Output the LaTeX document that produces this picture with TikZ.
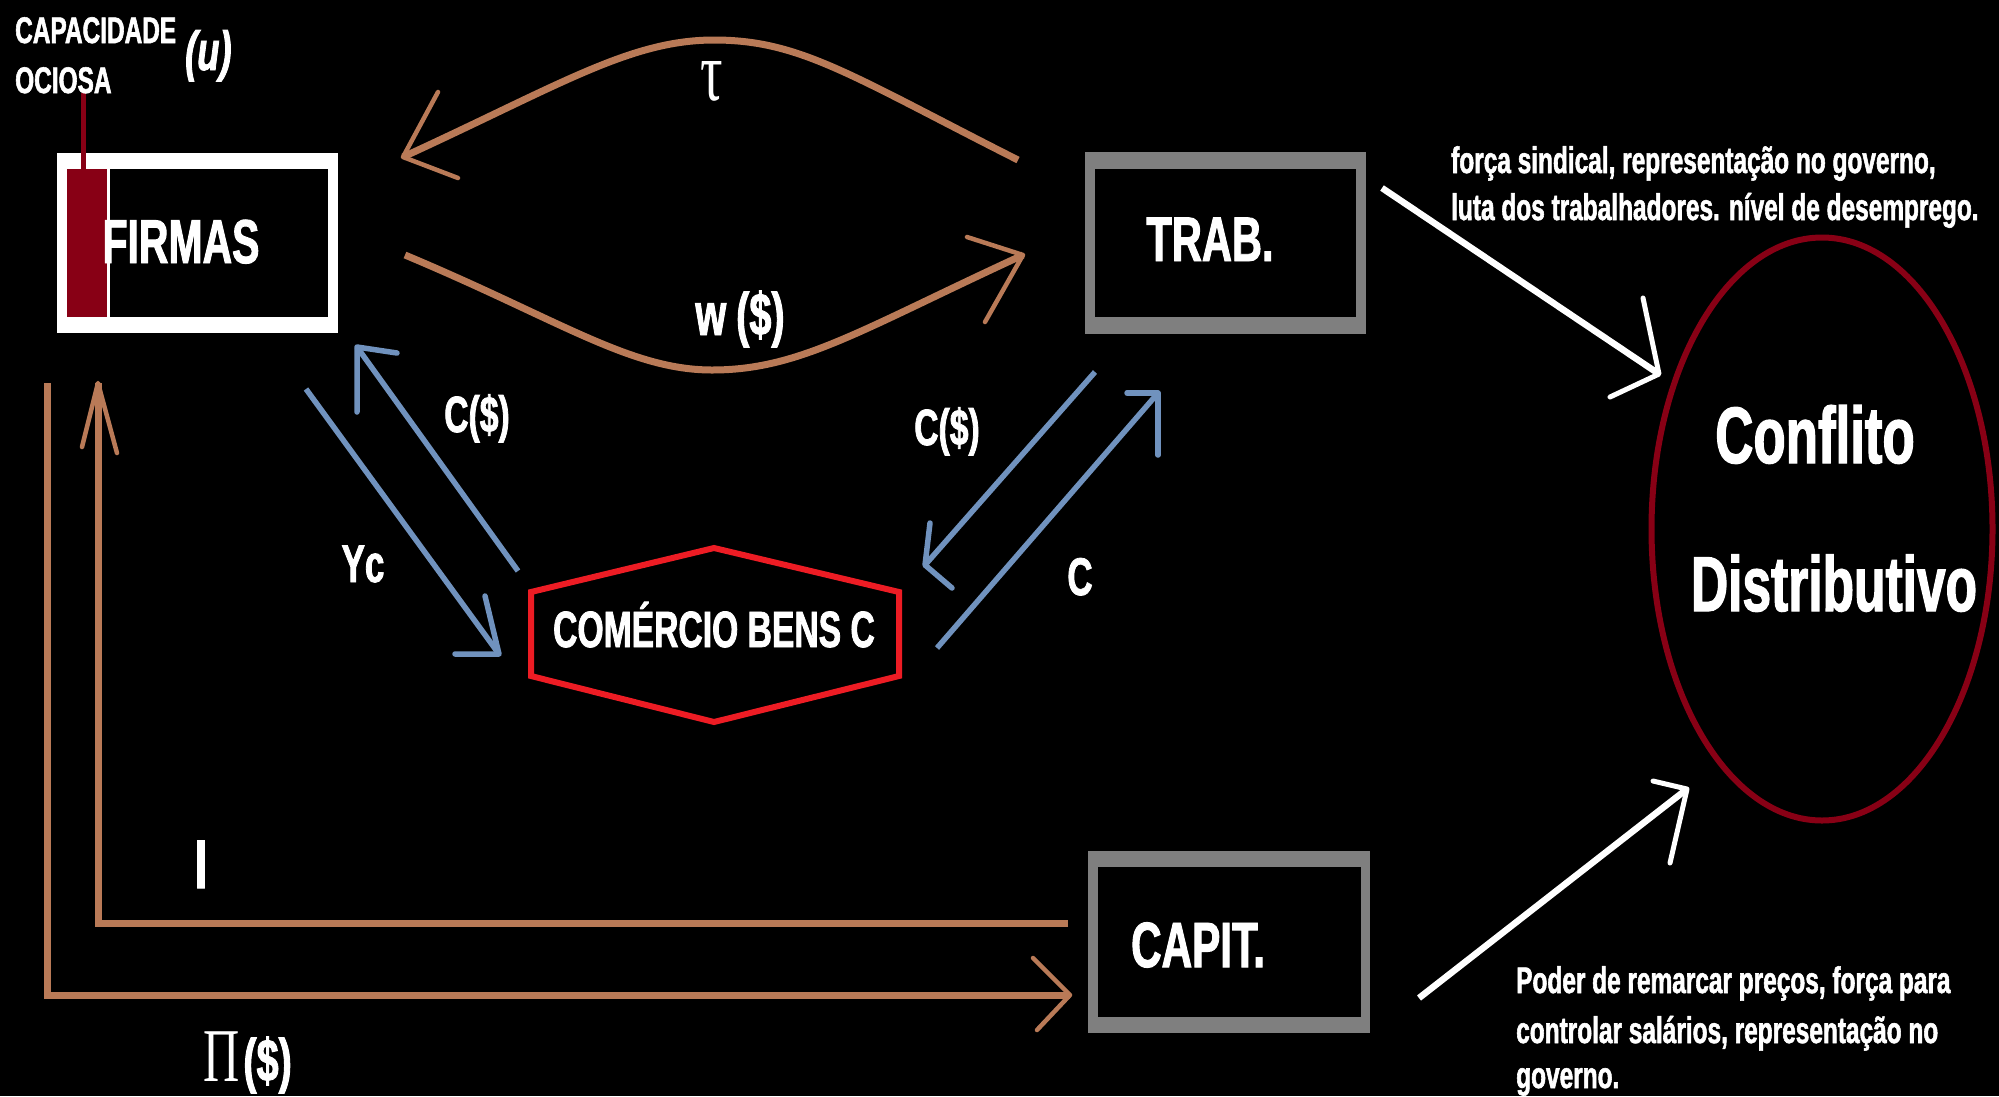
\documentclass[tikz,border=0pt]{standalone}
\usepackage{fontspec}
\usetikzlibrary{shapes.geometric}
\newfontfamily\nf{Liberation Sans}[FakeStretch=0.66, BoldFeatures={FakeBold=1.5}, BoldItalicFeatures={FakeBold=1.5}]
\newfontfamily\srf{Liberation Serif}[FakeStretch=0.66]
\definecolor{brn}{RGB}{185,122,87}
\definecolor{blu}{RGB}{112,146,190}
\definecolor{redc}{RGB}{237,28,36}
\definecolor{dred}{RGB}{136,0,21}
\definecolor{gry}{RGB}{127,127,127}
\newcommand\fsz[1]{\fontsize{#1}{#1}\selectfont}
\begin{document}
\begin{tikzpicture}[x=1pt,y=-1pt,
  lbl/.style={text=white, inner sep=0pt, anchor=base},
  bold/.style={font=\nf\bfseries\fsz{#1}},
  outerbox/.style={inner sep=0pt, draw=none},
  innerbox/.style={inner sep=0pt, fill=black, draw=none},
  brnline/.style={draw=brn, line width=7pt, line join=miter},
  brnbarb/.style={draw=brn, line width=4.5pt, line join=round, line cap=round},
  bluline/.style={draw=blu, line width=5.5pt},
  blubarb/.style={draw=blu, line width=5.5pt, line join=round, line cap=round},
  whtline/.style={draw=white, line width=6.5pt},
  whtbarb/.style={draw=white, line width=5pt, line join=round, line cap=round}]
\fill[black] (0,0) rectangle (1999,1096);
\useasboundingbox (0,0) rectangle (1999,1096);

% ---------- FIRMAS ----------
\node[outerbox, fill=white, minimum width=281pt, minimum height=180pt] (firmas) at (197.5,243) {};
\node[innerbox, minimum width=261pt, minimum height=148pt] (firmasin) at (197.5,243) {};
\node[inner sep=0pt, fill=dred, minimum width=40pt, minimum height=148pt] (bar) at (87,243) {};
\draw[white, line width=3pt] ([xshift=1.5pt]bar.north east) -- ([xshift=1.5pt]bar.south east);
\node[lbl, bold=62] (firmastxt) at (181,263) {FIRMAS};
\coordinate (capline) at (83,93);
\draw[dred, line width=5pt] (capline) -- (capline |- bar.north);
\node[lbl, anchor=base west, bold=37] (cap1) at (15,43) {CAPACIDADE};
\node[lbl, anchor=base west, bold=37] (cap2) at (15,93) {OCIOSA};
\node[lbl, anchor=base west, font=\nf\bfseries\itshape\fsz{55}] (u) at (185,70) {(u)};

% ---------- TRAB ----------
\node[outerbox, fill=gry, minimum width=281pt, minimum height=182pt] (trab) at (1225.5,243) {};
\node[innerbox, minimum width=261pt, minimum height=148pt] (trabin) at (1225.5,243) {};
\node[lbl, bold=63] (trabtxt) at (1210,261) {TRAB.};

% ---------- CAPIT ----------
\node[outerbox, fill=gry, minimum width=282pt, minimum height=182pt] (capit) at (1229,942) {};
\node[innerbox, minimum width=263pt, minimum height=150pt] (capitin) at (1229.5,942) {};
\node[lbl, bold=64] (capittxt) at (1198,967) {CAPIT.};

% ---------- COMERCIO ----------
\node[lbl, bold=51] (com) at (714,647) {COMÉRCIO BENS C};
\draw[redc, line width=6pt, line join=miter] (714,548) -- (899,592) -- (899,676) -- (714,722) -- (531,676) -- (531,592) -- cycle;

% ---------- CONFLITO ----------
\node[draw=dred, line width=6pt, ellipse, inner sep=0pt, minimum width=341pt, minimum height=583pt] (conf) at (1822,529) {};
\node[lbl, bold=80] (conf1) at (1815,463) {Conflito};
\node[lbl, bold=78] (conf2) at (1834,611) {Distributivo};

% ---------- brown arcs ----------
\coordinate (tauA) at (1018,160);
\coordinate (tauB) at (403,157);
\draw[brnline] (tauA) .. controls (850,75) and (800,40) .. (714,40) .. controls (630,40) and (560,85) .. (tauB);
\draw[brnbarb] (438,92) -- (tauB) -- (458,178);
\node[lbl, font=\srf\fsz{85}] (tau) at (712,100) {τ};

\coordinate (wA) at (405,255);
\coordinate (wB) at (1023,255);
\draw[brnline] (wA) .. controls (560,320) and (630,370) .. (712,370) .. controls (800,370) and (860,330) .. (wB);
\draw[brnbarb] (967,237) -- (wB) -- (985,322);
\node[lbl, bold=60] (w) at (740,335) {w\,(\$)};

% ---------- brown L arrows ----------
\coordinate (iA) at (1068,923);
\coordinate (iB) at (98,383);
\draw[brnline] (iA) -- (iB |- iA) -- (iB);
\draw[brnbarb] (82,447) -- (iB) -- (117,453);
\node[lbl, bold=69] (itxt) at (201,888) {I};

\coordinate (pA) at (47,383);
\coordinate (pB) at (1070,995);
\draw[brnline] (pA) -- (pA |- pB) -- (pB);
\draw[brnbarb] (1033,958) -- (pB) -- (1037,1030);
\node[lbl, anchor=base west] (pitxt) at (203,1081) {{\srf\fsz{76}Π}\kern4pt{\nf\bfseries\fsz{60}(\$)}};

% ---------- blue arrows ----------
\coordinate (ycA) at (306,389);
\coordinate (ycB) at (499,654);
\draw[bluline] (ycA) -- (ycB);
\draw[blubarb] (455,654) -- (ycB) -- (485,596);
\node[lbl, bold=53] (yc) at (363,582) {Yc};

\coordinate (c1A) at (518,571);
\coordinate (c1B) at (357,347);
\draw[bluline] (c1A) -- (c1B);
\draw[blubarb] (357,412) -- (c1B) -- (397,353);
\node[lbl, bold=51] (c1) at (477,432) {C(\$)};

\coordinate (c2A) at (1095,372);
\coordinate (c2B) at (925,565);
\draw[bluline] (c2A) -- (c2B);
\draw[blubarb] (930,523) -- (c2B) -- (952,588);
\node[lbl, bold=51] (c2) at (947,445) {C(\$)};

\coordinate (c3A) at (937,648);
\coordinate (c3B) at (1158,393);
\draw[bluline] (c3A) -- (c3B);
\draw[blubarb] (1127,393) -- (c3B) -- (1158,455);
\node[lbl, bold=53] (c3) at (1080,595) {C};

% ---------- white arrows ----------
\coordinate (t1A) at (1382,188);
\coordinate (t1B) at (1659,374);
\draw[whtline] (t1A) -- (t1B);
\draw[whtbarb] (1643,298) -- (t1B) -- (1610,397);

\coordinate (t2A) at (1419,998);
\coordinate (t2B) at (1687,789);
\draw[whtline] (t2A) -- (t2B);
\draw[whtbarb] (1653,781) -- (t2B) -- (1670,863);

% ---------- notes ----------
\node[lbl, anchor=base west, bold=37] (s1) at (1451,173) {força sindical, representação no governo,};
\node[lbl, anchor=base west, bold=37] (s2) at (1451,220) {luta dos trabalhadores. nível de desemprego.};
\node[lbl, anchor=base west, bold=37] (p1) at (1516,993) {Poder de remarcar preços, força para};
\node[lbl, anchor=base west, bold=37] (p2) at (1516,1043) {controlar salários, representação no};
\node[lbl, anchor=base west, bold=37] (p3) at (1516,1088) {governo.};
\end{tikzpicture}
\end{document}
